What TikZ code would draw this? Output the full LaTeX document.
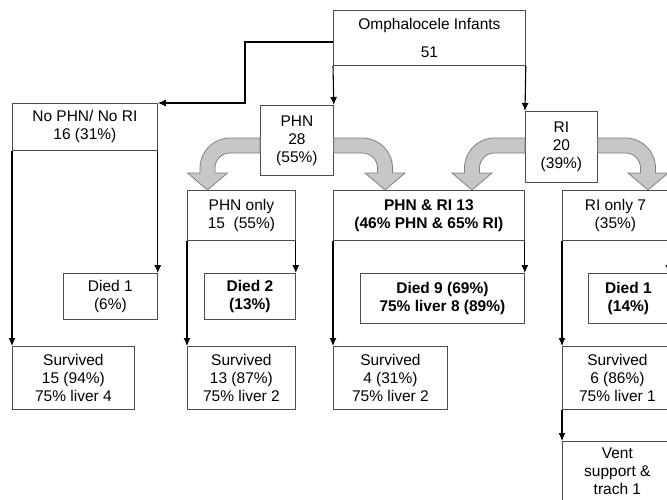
\documentclass[tikz,border=0pt]{standalone}
\usepackage{fontspec}
\setmainfont{Liberation Sans}
\usetikzlibrary{arrows.meta,calc}
\tikzset{>={Latex[length=8pt,width=7pt]}}
\newcommand{\boxfont}{\fontsize{15.5}{18}\selectfont}
\tikzset{box/.style={draw=black!70, line width=0.8pt, rectangle, anchor=north west, inner sep=0pt, align=center, font=\boxfont}}
\tikzset{boldbox/.style={box, font=\boxfont\bfseries}}
\tikzset{link/.style={->, line width=1.1pt}}
\tikzset{bigarrow/.style={fill=black!22, draw=black!50, line width=0.8pt}}
% bent block arrow: #1 start anchor, #2 head x, #3 direction (1 right, -1 left)
\newcommand{\bendarrow}[3]{%
  \pgfmathsetmacro{\bo}{#2+#3*7.5}%
  \pgfmathsetmacro{\bi}{#2-#3*7.5}%
  \pgfmathsetmacro{\bc}{#2+#3*7.5-#3*30}%
  \pgfmathsetmacro{\bh}{#2+#3*20}%
  \pgfmathsetmacro{\bk}{#2-#3*20}%
  \pgfmathsetmacro{\ba}{90-#3*90}%
  \filldraw[bigarrow] (#1 |- 0,-138) -- (\bc,-138) arc[start angle=90, end angle=\ba, radius=30pt]
    -- (\bo,-173) -- (\bh,-173) -- (#2,-190) -- (\bk,-173) -- (\bi,-173) -- (\bi,-168)
    arc[start angle=\ba, end angle=90, radius=15pt] -- (#1 |- 0,-153) -- cycle;
}

\begin{document}
\begin{tikzpicture}[x=1pt,y=1pt]
  \clip (0,0) rectangle (667,-499);
  % Boxes
  \node[box, minimum width=192pt, minimum height=55pt] (top) at (333,-10) {Omphalocele Infants\\[10pt]51};
  \node[box, minimum width=145pt, minimum height=47pt] (nophn) at (12,-103) {No PHN/ No RI\\16 (31\%)};
  \node[box, minimum width=73pt, minimum height=70pt] (phn) at (260,-105) {PHN\\28\\(55\%)};
  \node[box, minimum width=72pt, minimum height=71pt] (ri) at (525,-111) {RI\\20\\(39\%)};
  \node[box, minimum width=108pt, minimum height=50pt] (phnonly) at (187,-190) {PHN only\\15~~(55\%)};
  \node[boldbox, minimum width=191pt, minimum height=50pt] (both) at (333,-190) {PHN \& RI 13\\(46\% PHN \& 65\% RI)};
  \node[box, minimum width=106pt, minimum height=50pt] (rionly) at (562,-190) {RI only 7\\(35\%)};
  \node[box, minimum width=94pt, minimum height=46pt] (died1) at (63,-273) {Died 1\\(6\%)};
  \node[boldbox, minimum width=91pt, minimum height=46pt] (died2) at (204,-273) {Died 2\\(13\%)};
  \node[boldbox, minimum width=164pt, minimum height=50pt] (died9) at (360,-273) {Died 9 (69\%)\\75\% liver 8 (89\%)};
  \node[boldbox, minimum width=80pt, minimum height=50pt] (died1b) at (588,-273) {Died 1\\(14\%)};
  \node[box, minimum width=122pt, minimum height=63pt] (surv1) at (12,-346) {Survived\\15 (94\%)\\75\% liver 4};
  \node[box, minimum width=108pt, minimum height=63pt] (surv2) at (187,-346) {Survived\\13 (87\%)\\75\% liver 2};
  \node[box, minimum width=114pt, minimum height=63pt] (surv3) at (333,-346) {Survived\\4 (31\%)\\75\% liver 2};
  \node[box, minimum width=110pt, minimum height=63pt] (surv4) at (562,-346) {Survived\\6 (86\%)\\75\% liver 1};
  \node[box, minimum width=110pt, minimum height=60pt] (vent) at (562,-441) {Vent\\support \&\\trach 1};
  % Block arrows
  \bendarrow{phn.west}{207.5}{-1}
  \bendarrow{phn.east}{385}{1}
  \bendarrow{ri.west}{472}{-1}
  \bendarrow{ri.east}{648}{1}
  % Lines
  \draw[link] (top.south west) -- (phn.north east);
  \draw[link] (top.south east) -- (ri.north west);
  \draw[link] ([yshift=-32pt]top.north west) -- ++(-88pt,0) |- (nophn.north east);
  \draw[link] (nophn.south west) -- (surv1.north west);
  \draw[link] (nophn.south east) -- (died1.north east);
  \draw[link] (phnonly.south west) -- (surv2.north west);
  \draw[link] (phnonly.south east) -- (died2.north east);
  \draw[link] (both.south west) -- (surv3.north west);
  \draw[link] (both.south east) -- (died9.north east);
  \draw[link] (rionly.south west) -- (surv4.north west);
  \draw[link] (surv4.south west) -- (vent.north west);
  \draw[link] (rionly.south east) -- (died1b.north east);
\end{tikzpicture}
\end{document}
